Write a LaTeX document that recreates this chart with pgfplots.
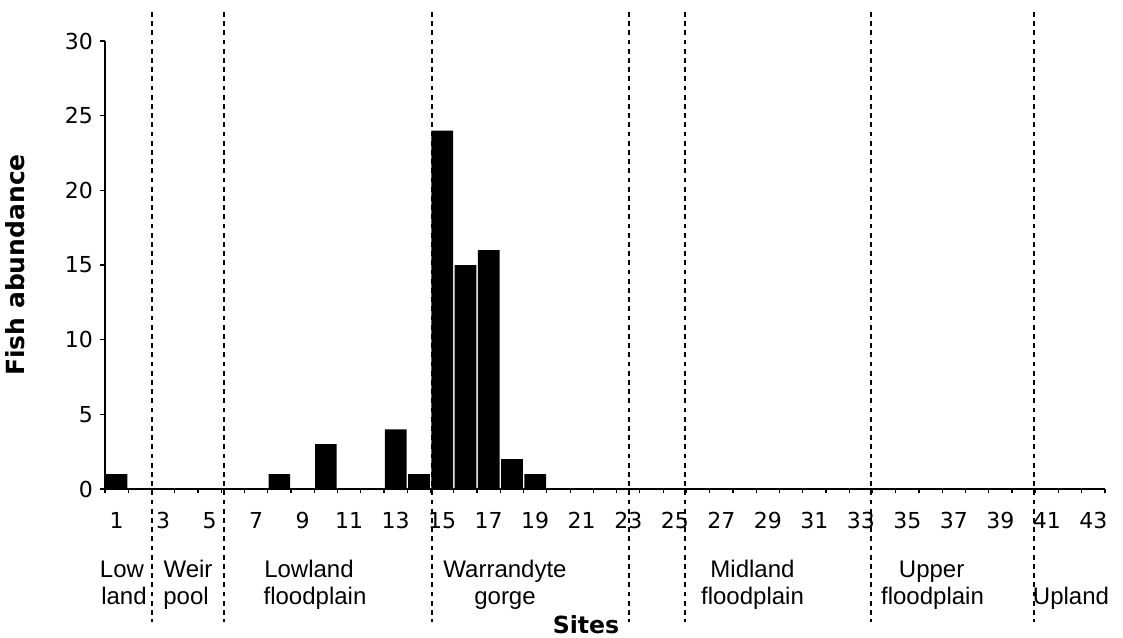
\documentclass[border=0pt]{standalone}
\usepackage{fontspec}
\setmainfont{DejaVu Sans}
\newfontfamily\arialfont{Liberation Sans}
\usepackage{pgfplots}
\usepackage{pgfplotstable}
\pgfplotsset{compat=1.18}
\pgfplotstableread{
site abund
1 1
2 0
3 0
4 0
5 0
6 0
7 0
8 1
9 0
10 3
11 0
12 0
13 4
14 1
15 24
16 15
17 16
18 2
19 1
20 0
21 0
22 0
23 0
24 0
25 0
26 0
27 0
28 0
29 0
30 0
31 0
32 0
33 0
34 0
35 0
36 0
37 0
38 0
39 0
40 0
41 0
42 0
43 0
}\fishdata
\begin{document}
\begin{tikzpicture}
\begin{axis}[
  scale only axis, width=500pt, height=224pt,
  xmin=0.5, xmax=43.5, ymin=0, ymax=30,
  axis lines*=left,
  axis line style={line width=0.6pt, black},
  ybar, bar width=0.93,
  xtick={1,3,...,43},
  minor xtick={0.5,1.5,...,43.5},
  major x tick style={draw=none},
  minor tick length=2.2pt,
  ytick={0,5,...,30},
  major tick length=2.5pt,
  tick align=outside,
  tick style={black, line width=0.6pt},
  /pgf/number format/assume math mode=true,
  ticklabel style={font=\fontsize{11}{13}\selectfont},
  xticklabel style={yshift=-5.5pt},
  clip=false,
]
\addplot[fill=black, draw=none] table[x=site, y=abund] {\fishdata};
\foreach \xv in {2.5,5.62,14.57,23.03,25.44,33.43,40.43} {
  \edef\tmp{\noexpand\draw[black, line width=1pt, dash pattern=on 2.4pt off 2.2pt] (axis cs:\xv,31.94) -- (axis cs:\xv,-8.9);}
  \tmp
}
\end{axis}
\begin{scope}[every node/.style={font=\arialfont\fontsize{12}{14}\selectfont, anchor=base, inner sep=0pt}]
\node at (8.5pt,-44pt) {Low};
\node at (9.5pt,-57.5pt) {land};
\node at (41.5pt,-44pt) {Weir};
\node at (40.5pt,-57.5pt) {pool};
\node at (102pt,-44pt) {Lowland};
\node at (105pt,-57.5pt) {floodplain};
\node at (200pt,-44pt) {Warrandyte};
\node at (200pt,-57.5pt) {gorge};
\node at (323.75pt,-44pt) {Midland};
\node at (323.75pt,-57.5pt) {floodplain};
\node at (413.3pt,-44pt) {Upper};
\node at (413.75pt,-57.5pt) {floodplain};
\node at (483pt,-57.5pt) {Upland};
\end{scope}
\node[font=\bfseries\fontsize{11.8}{14}\selectfont, anchor=base, inner sep=0pt] at (240.5pt,-72pt) {Sites};
\node[font=\bfseries\fontsize{12.5}{14}\selectfont, anchor=base, inner sep=0pt, rotate=90] at (-40pt,112pt) {Fish abundance};
\pgfresetboundingbox
\useasboundingbox (-52.5pt,-74pt) rectangle (509pt,244.5pt);
\end{tikzpicture}
\end{document}
